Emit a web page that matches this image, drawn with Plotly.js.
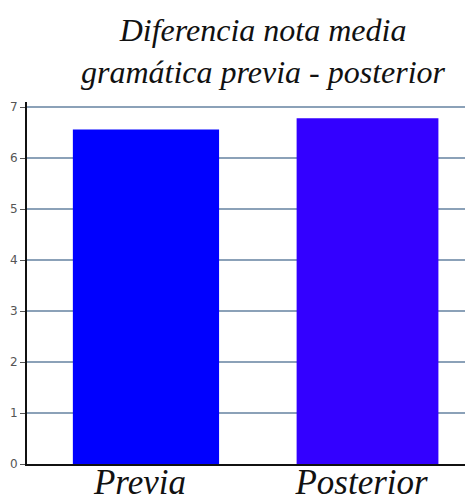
<!DOCTYPE html>
<html>
<head>
<meta charset="utf-8">
<script src="https://cdn.plot.ly/plotly-3.0.1.min.js"></script>
<style>html,body{margin:0;padding:0;background:#fff;}#chart{width:468px;height:498px;}</style>
</head>
<body>
<div id="chart"></div>
<script>
var categories = ["Previa", "Posterior"];
var values = [6.56, 6.78];
var barColors = ["#0000ff", "#3300ff"];
var yTicks = [0, 1, 2, 3, 4, 5, 6, 7];
var titleText = "Diferencia nota media<br>gramática previa - posterior";
var serif = "Liberation Serif";

var trace = {
  type: "bar",
  x: categories,
  y: values,
  width: [0.66, 0.64],
  marker: {color: barColors, line: {width: 0}},
  hoverinfo: "none"
};

var layout = {
  width: 468,
  height: 498,
  margin: {l: 27, r: 3, t: 102, b: 34},
  paper_bgcolor: "#ffffff",
  plot_bgcolor: "#ffffff",
  showlegend: false,
  title: {
    text: titleText,
    font: {family: serif, size: 32, color: "#111111", style: "italic"},
    x: 263 / 468,
    xanchor: "center",
    xref: "container",
    y: 0.917,
    yanchor: "top"
  },
  xaxis: {
    type: "category",
    range: [-0.537, 1.44],
    showgrid: false,
    zeroline: false,
    showline: true,
    linecolor: "#111111",
    linewidth: 2,
    ticks: "",
    ticklabelstandoff: -14,
    ticklabelshift: -6,
    tickfont: {family: serif, size: 35, color: "#111111", style: "italic"},
    automargin: false
  },
  yaxis: {
    range: [0, 7.1],
    tickvals: yTicks,
    ticktext: yTicks.map(String),
    showgrid: true,
    gridcolor: "#8ba1b8",
    gridwidth: 1.6,
    zeroline: false,
    showline: true,
    linecolor: "#111111",
    linewidth: 2,
    ticks: "outside",
    ticklen: 5,
    tickwidth: 1,
    tickcolor: "#555555",
    tickfont: {family: "DejaVu Sans", size: 12, color: "#555555"},
    automargin: false
  }
};

Plotly.newPlot("chart", [trace], layout, {displayModeBar: false, staticPlot: true});
</script>
</body>
</html>
